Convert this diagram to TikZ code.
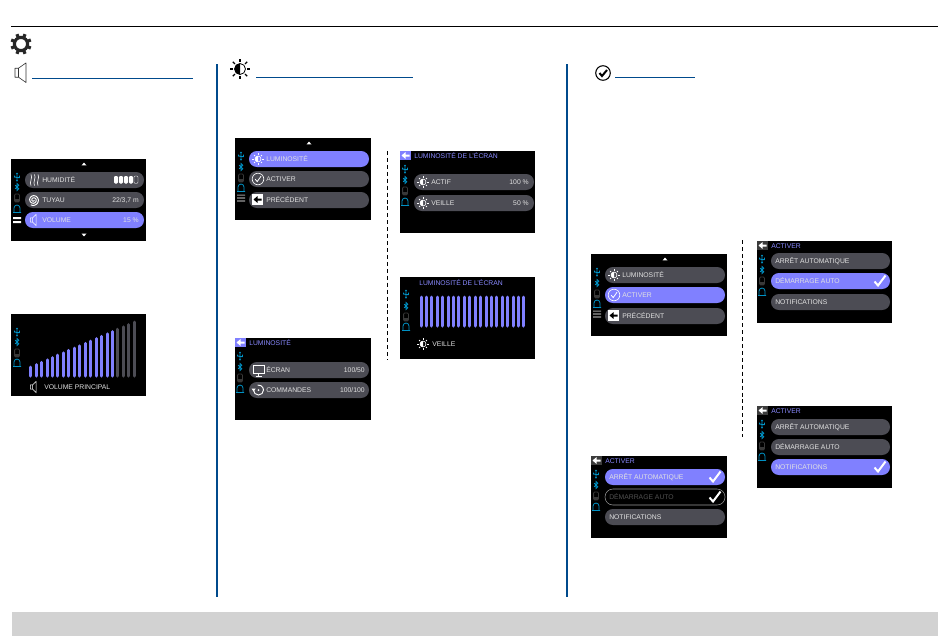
\documentclass[tikz,border=0pt]{standalone}
\usepackage{fontspec}
\setmainfont{Liberation Sans}
\definecolor{hl}{HTML}{8080FF}
\definecolor{pillg}{HTML}{4C4C54}
\definecolor{teal}{HTML}{0091C4}
\definecolor{navy}{HTML}{004A8C}
\definecolor{txt}{HTML}{E2E2E2}
\definecolor{band}{HTML}{D2D2D2}
\definecolor{hdr}{HTML}{8A8AFF}
\definecolor{backg}{HTML}{3C3C3C}
\tikzset{
  lbl/.style={text=txt,inner sep=0pt,anchor=west,font=\fontsize{5.1}{6}\selectfont},
  lblr/.style={text=txt,inner sep=0pt,anchor=east,font=\fontsize{5.1}{6}\selectfont},
  hd/.style={text=hdr,inner sep=0pt,anchor=west,font=\fontsize{5.1}{6}\selectfont},
  headrule/.style={draw=navy,line width=.6pt},
  colrule/.style={draw=navy,line width=1.4pt},
  sep/.style={draw=black,line width=.6pt,dash pattern=on 3pt off 2.2pt},
  ic/.style={draw=white,line width=.45pt}
}
% screen background
\newcommand\scrn[1]{\fill[black] (0,0) rectangle (#1,82);}
% pill: y, colour, right end
\newcommand\pill[3]{\fill[#2,rounded corners=5.9pt] (14,#1) rectangle (#3,#1+16);}
\newcommand\pillout[2]{\draw[white!60!black,line width=.4pt,rounded corners=5.9pt] (14,#1) rectangle (#2,#1+16);}
\newcommand\sun[3]{\begin{scope}[shift={(#1,#2)},scale=#3*.85]
  \fill[white] (0,-3.5) arc (-90:-270:3.5) -- cycle;
  \draw[ic] (0,0) circle (3.5);
  \foreach \a in {0,45,...,315}{\draw[ic,line width=.55pt] (\a:4.9) -- (\a:6.5);}
\end{scope}}
\newcommand\tick[2]{\begin{scope}[shift={(#1,#2)}]
  \draw[white,line width=1.5pt] (-5.5,0.5) -- (-2,4.5) -- (5.5,-5.5);
\end{scope}}
\newcommand\chk[2]{\begin{scope}[shift={(#1,#2)}]
  \draw[ic] (0,0) circle (5.8);
  \draw[ic,line width=.6pt] (-2.8,0.2) -- (-0.8,2.6) -- (3,-2.8);
\end{scope}}
\newcommand\spk[3]{\begin{scope}[shift={(#1,#2)},scale=#3]
  \draw[line join=round,draw=white,line width=.4pt] (-5,-3) -- (-2,-3) -- (3,-8) -- (3,8) -- (-2,3) -- (-5,3) -- cycle (-2,-3) -- (-2,3);
\end{scope}}
\newcommand\larrow[3]{\begin{scope}[shift={(#1,#2)}]
  \fill[#3] (-4,0) -- (0,-3.4) -- (0,-1) -- (4,-1) -- (4,1) -- (0,1) -- (0,3.4) -- cycle;
\end{scope}}
% status icons at x=#1: y of usb, bluetooth, battery, bell
\newcommand\status[5]{
  \draw[teal,line width=.7pt] (#1,#2-3) -- (#1,#2+3) (#1-2.5,#2-1.5) -- (#1-2.5,#2) -- (#1+2.5,#2+.8) (#1+2.5,#2-1.5) -- (#1+2.5,#2+.8);
  \fill[teal] (#1-1.2,#2-3) -- (#1+1.2,#2-3) -- (#1,#2-4.4) -- cycle;
  \fill[teal] (#1,#2+3.6) circle (1.1);
  \draw[teal,line width=.55pt] (#1-1.8,#3-1.8) -- (#1+1.8,#3+1.8) -- (#1,#3+3.6) -- (#1,#3-3.6) -- (#1+1.8,#3-1.8) -- (#1-1.8,#3+1.8);
  \draw[white!22!black,line width=.6pt,rounded corners=.8pt] (#1-2.4,#4-4) rectangle (#1+2.4,#4+4);
  \fill[white!22!black] (#1-2.4,#4+1) rectangle (#1+2.4,#4+4);
  \draw[teal,line width=.6pt] (#1-4,#5+3.5) -- (#1+4,#5+3.5) (#1-3,#5+3.5) -- (#1-3,#5-1) arc (180:360:3) -- (#1+3,#5+3.5);
}
\newcommand\upt[2]{\fill[white] (#1-2.5,#2+1.3) -- (#1+2.5,#2+1.3) -- (#1,#2-1.3) -- cycle;}
\newcommand\dnt[2]{\fill[white] (#1-2.5,#2-1.3) -- (#1+2.5,#2-1.3) -- (#1,#2+1.3) -- cycle;}
\newcommand\burger[2]{\fill[#2] (2,#1-3.5) rectangle (10,#1-2.3) (2,#1-.6) rectangle (10,#1+.6) (2,#1+2.3) rectangle (10,#1+3.5);}
\newcommand\menuthree[2]{%
  \scrn{136}
  \upt{74}{5}
  \status{6}{18}{29}{40}{50}
  \burger{60}{white!60!black}
  \pill{13}{#1}{134}
  \pill{33}{#2}{134}
  \pill{54}{pillg}{134}
  \sun{23}{21}{1}
  \node[lbl] at (31,21) {LUMINOSITÉ};
  \chk{23}{41}
  \node[lbl] at (31,41) {ACTIVER};
  \fill[white] (17,56) rectangle (28,67);
  \larrow{22.5}{61.5}{black}
  \node[lbl] at (31,62) {PRÉCÉDENT};
}
\newcommand\activer[7]{%
  \scrn{#7}
  \fill[backg] (0,0) rectangle (11,9);
  \larrow{5.5}{4.5}{white}
  \node[hd] at (14,5) {ACTIVER};
  \status{5}{18}{29}{40}{51}
  #1
  \node[lbl] at (18,#2) {ARRÊT AUTOMATIQUE};
  \node[lbl,#4] at (18,#3) {DÉMARRAGE AUTO};
  \node[lbl] at (18,#5) {NOTIFICATIONS};
  #6
}
\begin{document}
\begin{tikzpicture}[x=.75pt,y=-.75pt]
\useasboundingbox (0,0) rectangle (950,640);
\fill[white] (0,0) rectangle (950,640);
% frame elements
\draw[black,line width=.75pt] (11,26.5) -- (938,26.5);
\fill[band] (12,612) rectangle (938,636);
\draw[colrule] (217,64) -- (217,597);
\draw[colrule] (567,64) -- (567,597);
\draw[headrule] (32,78) -- (193,78);
\draw[headrule] (256,77) -- (413,77);
\draw[headrule] (615,77) -- (695,77);
\draw[sep] (387,151) -- (387,360);
\draw[sep] (742,240) -- (742,437);
% gear
\begin{scope}[shift={(21,44)}]
  \draw[black!85,line width=2.3pt] (0,0) circle (6.6);
  \foreach \a in {0,45,...,315}{\draw[black!85,line width=2.4pt] (\a+22.5:7) -- (\a+22.5:10.6);}
\end{scope}
% speaker heading icon
\begin{scope}[shift={(20,72.7)}]
  \draw[black!80,line width=.45pt,line join=round] (-5,-4.5) -- (-1.5,-4.5) -- (6,-9.8) -- (6,9.8) -- (-1.5,4.5) -- (-5,4.5) -- cycle (-1.5,-4.5) -- (-1.5,4.5);
\end{scope}
% sun heading icon
\begin{scope}[shift={(240,69)}]
  \fill[black] (0,-5.5) arc (-90:-270:5.5) -- cycle;
  \draw[black,line width=.6pt] (0,0) circle (5.5);
  \foreach \a in {0,45,...,315}{\draw[black,line width=1pt] (\a:7.2) -- (\a:10.2);}
\end{scope}
% check heading icon
\begin{scope}[shift={(603,73)}]
  \draw[black,line width=.8pt] (0,0) circle (7.3);
  \draw[black,line width=1.5pt] (-3.5,0) -- (-1,3) -- (4,-3);
\end{scope}

% --- S1
\begin{scope}[shift={(11,159)}]
  \scrn{135}
  \upt{73}{5}\dnt{73}{76}
  \status{6}{18}{28}{39}{50}
  \fill[white] (2,58) rectangle (10,60) (2,62) rectangle (10,64);
  \pill{13}{pillg}{133}
  \pill{33}{pillg}{133}
  \pill{53}{hl}{133}
  % humidity icon
  \foreach \x in {20,23.5,27}{\draw[white,line width=.45pt] (\x,15.5) .. controls (\x+2,18.5) and (\x-2,23.5) .. (\x,26.5);}
  \node[lbl] at (31,21) {HUMIDITÉ};
  \foreach \x in {103,108,113,118}{\fill[white,rounded corners=.9pt] (\x,17) rectangle (\x+4,24.5);}
  \draw[white,line width=.3pt,rounded corners=.9pt] (123,17) rectangle (127,24.5);
  % hose icon
  \draw[white,line width=.75pt,domain=0:840,samples=70,smooth] plot ({22.5+(.6+\x/170)*cos(\x)},{41+(.6+\x/170)*sin(\x)});
  \node[lbl] at (31,41) {TUYAU};
  \node[lblr] at (128,41) {22/3,7 m};
  \spk{23}{61}{.72}
  \node[lbl] at (31,61) {VOLUME};
  \node[lblr] at (128,61) {15 \%};
\end{scope}

% --- S2
\begin{scope}[shift={(11,314)}]
  \scrn{135}
  \status{6}{18}{28}{39}{49}
  \foreach \i in {0,...,19}{
    \pgfmathsetmacro\bx{19.7+\i*5.45}
    \pgfmathsetmacro\by{52-\i*2.36}
    \ifnum\i<16\def\bc{hl}\else\def\bc{pillg}\fi
    \draw[\bc,line width=2.25pt,line cap=round] (\bx,\by+1) -- (\bx,62);
  }
  \spk{23}{73}{.72}
  \node[lbl] at (33,73) {VOLUME PRINCIPAL};
\end{scope}

% --- S3
\begin{scope}[shift={(235,138)}]
  \menuthree{hl}{pillg}
\end{scope}

% --- S4
\begin{scope}[shift={(400,151)}]
  \scrn{135}
  \fill[hl] (0,0) rectangle (11,9);
  \larrow{5.5}{4.5}{white}
  \node[hd] at (14,5) {LUMINOSITÉ DE L'ÉCRAN};
  \status{5}{18}{29}{40}{51}
  \pill{23}{pillg}{134}
  \pill{44}{pillg}{134}
  \sun{23}{31}{1}
  \node[lbl] at (31,31) {ACTIF};
  \node[lblr] at (129,31) {100 \%};
  \sun{23}{52}{1}
  \node[lbl] at (31,52) {VEILLE};
  \node[lblr] at (129,52) {50 \%};
\end{scope}

% --- S5
\begin{scope}[shift={(400,277)}]
  \scrn{135}
  \node[hd] at (19,6) {LUMINOSITÉ DE L'ÉCRAN};
  \status{6}{17}{29}{40}{50}
  \foreach \i in {0,...,19}{
    \pgfmathsetmacro\bx{21+\i*5.42}
    \draw[hl,line width=2.25pt,line cap=round] (\bx,20) -- (\bx,49);
  }
  \sun{23}{67}{1}
  \node[lbl] at (32,67) {VEILLE};
\end{scope}

% --- S6
\begin{scope}[shift={(235,338)}]
  \scrn{136}
  \fill[hl] (0,0) rectangle (11,9);
  \larrow{5.5}{4.5}{white}
  \node[hd] at (14,5) {LUMINOSITÉ};
  \status{5}{18}{29}{40}{51}
  \pill{24}{pillg}{134}
  \pill{44}{pillg}{134}
  % monitor icon
  \draw[white,line width=.75pt] (18,27) rectangle (29,35);
  \draw[white,line width=.7pt] (23.5,35.5) -- (23.5,38) (20.5,38) -- (26.5,38);
  \node[lbl] at (31,32) {ÉCRAN};
  \node[lblr] at (130,32) {100/50};
  % commandes icon
  \draw[white,line width=.7pt] (18.5,52) arc (180:-100:5);
  \fill[white] (16.6,50.6) -- (20.6,50.6) -- (18.6,53.6) -- cycle;
  \fill[white] (23.5,52) circle (1);
  \node[lbl] at (31,52) {COMMANDES};
  \node[lblr] at (130,52) {100/100};
\end{scope}

% --- S7
\begin{scope}[shift={(591,254)}]
  \menuthree{pillg}{hl}
\end{scope}

% --- S8
\begin{scope}[shift={(757,241)}]
  \activer{\pill{12}{pillg}{133}\pill{32}{hl}{133}\pill{53}{pillg}{133}}{20}{40}{}{61}{\tick{123}{40}}{135}
\end{scope}

% --- S9
\begin{scope}[shift={(591,456)}]
  \activer{\pill{13}{hl}{134}\pillout{33}{134}\pill{53}{pillg}{134}}{21}{41}{text=white!32!black}{61}{\tick{124}{21}\tick{124}{41}}{136}
\end{scope}

% --- S10
\begin{scope}[shift={(757,406)}]
  \activer{\pill{13}{pillg}{133}\pill{33}{pillg}{133}\pill{53}{hl}{133}}{21}{41}{}{61}{\tick{123}{61}}{135}
\end{scope}
\end{tikzpicture}
\end{document}
